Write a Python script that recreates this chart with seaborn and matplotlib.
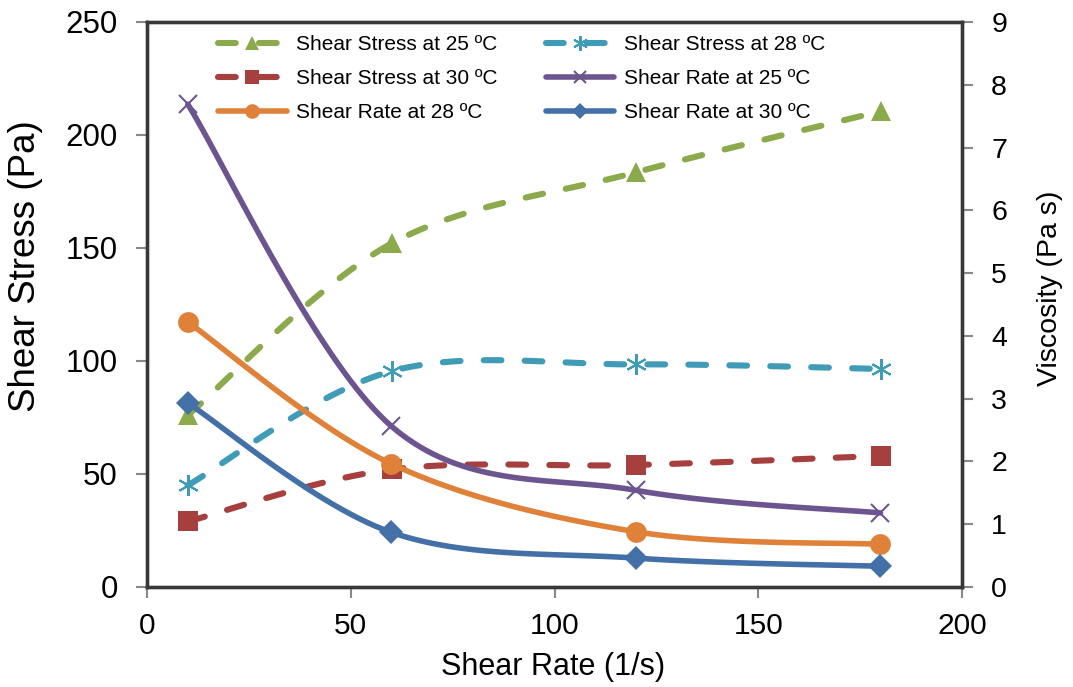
import numpy as np
import pandas as pd
import matplotlib
matplotlib.use("Agg")
import matplotlib.pyplot as plt
import seaborn as sns
from matplotlib.lines import Line2D

sns.set_style("white")
plt.rcParams["font.family"] = ["Liberation Sans", "DejaVu Sans"]
plt.rcParams["text.color"] = "black"
plt.rcParams["axes.labelcolor"] = "black"
plt.rcParams["xtick.color"] = "black"
plt.rcParams["ytick.color"] = "black"

# Measured data
shear_rate = [10, 60, 120, 180]
stress_25 = [76.0, 152.0, 183.5, 210.5]
stress_28 = [45.0, 95.5, 98.5, 96.5]
stress_30 = [29.0, 52.0, 54.0, 58.0]
visc_25 = [7.69, 2.56, 1.54, 1.18]
visc_28 = [4.22, 1.96, 0.88, 0.68]
visc_30 = [2.93, 0.87, 0.46, 0.33]

labels = ["Shear Stress at 25 ºC", "Shear Stress at 28 ºC", "Shear Stress at 30 ºC",
          "Shear Rate at 25 ºC", "Shear Rate at 28 ºC", "Shear Rate at 30 ºC"]


def smooth(x, y, n=40):
    """Bezier smoothing through the points (spreadsheet-style smoothed line)."""
    x = np.asarray(x, float)
    y = np.asarray(y, float)
    pts = np.column_stack([x, y])
    out = []
    for i in range(len(pts) - 1):
        p0 = pts[i - 1] if i > 0 else pts[i]
        p1 = pts[i]
        p2 = pts[i + 1]
        p3 = pts[i + 2] if i + 2 < len(pts) else pts[i + 1]
        c1 = p1 + (p2 - p0) / 6.0
        c2 = p2 - (p3 - p1) / 6.0
        t = np.linspace(0, 1, n)[:, None]
        seg = ((1 - t) ** 3) * p1 + 3 * ((1 - t) ** 2) * t * c1 + 3 * (1 - t) * t ** 2 * c2 + t ** 3 * p2
        out.append(seg if i == 0 else seg[1:])
    s = np.vstack(out)
    return s[:, 0], s[:, 1]


W, H = 1073, 687
fig = plt.figure(figsize=(W / 100, H / 100), dpi=100)
ax = fig.add_axes([147 / W, 1 - 587 / H, (962 - 147) / W, (587 - 22) / H])
ax2 = ax.twinx()

lw_dash = 4.4
lw_solid = 4.0
dash = (2.9, 3.8)
series = [
    (ax, stress_25, "#8BAA4B", "^", 15, "dash", labels[0]),
    (ax, stress_28, "#3F9BB6", (6, 2, 0), 15, "dash", labels[1]),
    (ax, stress_30, "#A5403E", "s", 14, "dash", labels[2]),
    (ax2, visc_25, "#6C548E", "x", 13, "solid", labels[3]),
    (ax2, visc_28, "#DF8139", "o", 15, "solid", labels[4]),
    (ax2, visc_30, "#4470A8", "D", 12, "solid", labels[5]),
]

handles = {}
for a, ys, col, mk, ms, style, lab in series:
    sx, sy = smooth(shear_rate, ys)
    curve = pd.DataFrame({"x": sx, "y": sy})
    ls = (0, dash) if style == "dash" else "-"
    lw = lw_dash if style == "dash" else lw_solid
    sns.lineplot(data=curve, x="x", y="y", ax=a, color=col, lw=lw, sort=False,
                 estimator=None, linestyle=ls, dash_capstyle="round", legend=False)
    pts = pd.DataFrame({"x": shear_rate, "y": ys})
    mew = 1.5 if mk in ("x", (6, 2, 0)) else 0
    a.plot(pts["x"], pts["y"], linestyle="none", marker=mk, markersize=ms,
           color=col, markeredgecolor=col, markeredgewidth=mew, zorder=5)
    handles[lab] = Line2D([0], [0], color=col, lw=lw, linestyle=ls, marker=mk,
                          markersize=ms * 0.7, markeredgewidth=mew,
                          dash_capstyle="round", solid_capstyle="round")

ax.set_xlim(0, 200)
ax.set_ylim(0, 250)
ax2.set_ylim(0, 9)
ax.set_xticks([0, 50, 100, 150, 200])
ax.set_yticks([0, 50, 100, 150, 200, 250])
ax2.set_yticks(range(10))

tick_kw = dict(length=8, width=1.5, color="#888888", direction="out")
ax.tick_params(axis="y", labelsize=22.5, pad=13, left=True, **tick_kw)
ax.tick_params(axis="x", labelsize=21.5, pad=10, bottom=True, **tick_kw)
ax2.tick_params(axis="y", labelsize=20.5, pad=13, right=True, **tick_kw)
ax.set_xlabel("Shear Rate (1/s)", fontsize=22)
ax.set_ylabel("Shear Stress (Pa)", fontsize=26.5)
ax2.set_ylabel("Viscosity (Pa s)", fontsize=20.5)

# place the axis titles by their centres
axw = (962 - 147)
axh = (587 - 22)
ax.xaxis.set_label_coords((553 - 147) / axw, -(667 - 587) / axh)
ax.xaxis.label.set_va("center")
ax.yaxis.set_label_coords(-(147 - 26) / axw, (587 - 266) / axh)
ax.yaxis.label.set_va("center")
ax2.yaxis.set_label_coords((1050 - 147) / axw, (587 - 288) / axh)
ax2.yaxis.label.set_va("center")

for a in (ax, ax2):
    for sp in a.spines.values():
        sp.set_color("#383838")
        sp.set_linewidth(2.4)

order = [labels[0], labels[2], labels[4], labels[1], labels[3], labels[5]]
leg = ax2.legend([handles[k] for k in order], order, ncol=2, loc="upper left",
                 bbox_to_anchor=(218 / W, 1 - 35.5 / H), bbox_transform=fig.transFigure,
                 frameon=False, fontsize=15, borderpad=0, borderaxespad=0,
                 handlelength=3.3, columnspacing=2.3, labelspacing=0.71,
                 handletextpad=0.45)

fig.savefig("out.png", dpi=100)
